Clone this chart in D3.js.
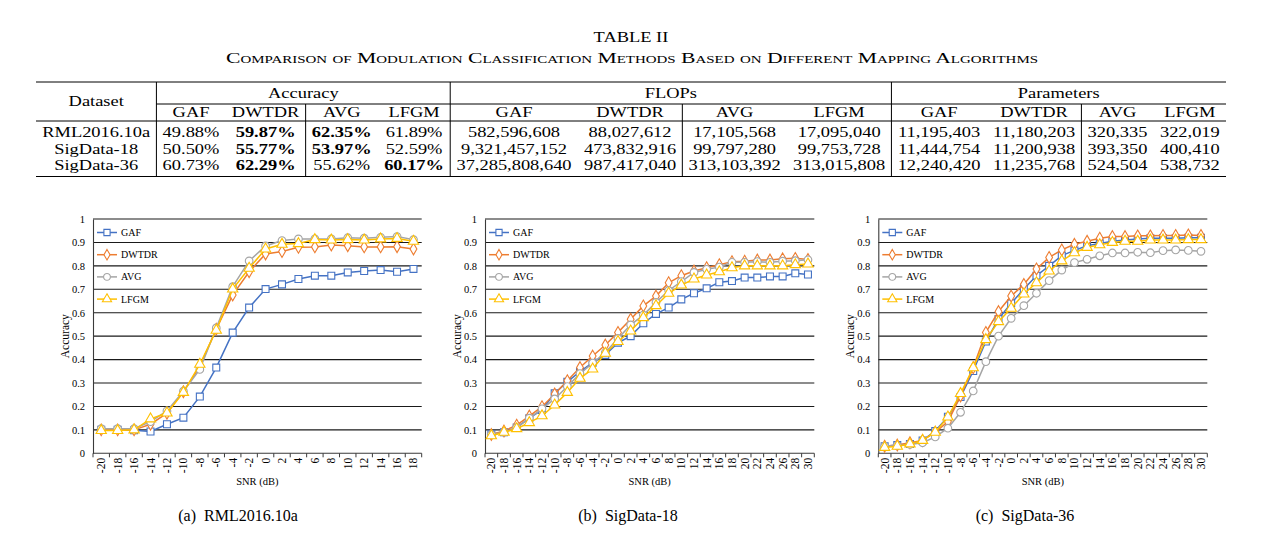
<!DOCTYPE html>
<html><head><meta charset="utf-8">
<script src="https://cdn.jsdelivr.net/npm/d3@7/dist/d3.min.js"></script>
<style>
body{margin:0;background:#fff;}
svg{display:block;font-family:"Liberation Serif","Times New Roman",serif;}
</style></head><body>
<svg id="fig" width="1263" height="538"></svg>
<script>
// ---------- table data ----------
const tableTitle = "TABLE II";
const tableCaption = "Comparison of Modulation Classification Methods Based on Different Mapping Algorithms";
const groupNames = ["Accuracy", "FLOPs", "Parameters"];
const methods = ["GAF", "DWTDR", "AVG", "LFGM"];
const datasets = ["RML2016.10a", "SigData-18", "SigData-36"];
const accuracyValues = [
  ["49.88%", "59.87%", "62.35%", "61.89%"],
  ["50.50%", "55.77%", "53.97%", "52.59%"],
  ["60.73%", "62.29%", "55.62%", "60.17%"]];
const accuracyBold = [
  [false, true, true, false],
  [false, true, true, false],
  [false, true, false, true]];
const flopsValues = [
  ["582,596,608", "88,027,612", "17,105,568", "17,095,040"],
  ["9,321,457,152", "473,832,916", "99,797,280", "99,753,728"],
  ["37,285,808,640", "987,417,040", "313,103,392", "313,015,808"]];
const paramValues = [
  ["11,195,403", "11,180,203", "320,335", "322,019"],
  ["11,444,754", "11,200,938", "393,350", "400,410"],
  ["12,240,420", "11,235,768", "524,504", "538,732"]];

// ---------- chart data ----------
const seriesNames = ["GAF", "DWTDR", "AVG", "LFGM"];
const yTicks = [0, 0.1, 0.2, 0.3, 0.4, 0.5, 0.6, 0.7, 0.8, 0.9, 1];
const snrA = [-20, -18, -16, -14, -12, -10, -8, -6, -4, -2, 0, 2, 4, 6, 8, 10, 12, 14, 16, 18];
const snrB = [-20, -18, -16, -14, -12, -10, -8, -6, -4, -2, 0, 2, 4, 6, 8, 10, 12, 14, 16, 18, 20, 22, 24, 26, 28, 30];
const snrC = [-20, -18, -16, -14, -12, -10, -8, -6, -4, -2, 0, 2, 4, 6, 8, 10, 12, 14, 16, 18, 20, 22, 24, 26, 28, 30];

const gafA   = [0.100, 0.100, 0.098, 0.093, 0.124, 0.152, 0.242, 0.366, 0.515, 0.622, 0.701, 0.721, 0.744, 0.758, 0.758, 0.772, 0.778, 0.782, 0.775, 0.787];
const dwtdrA = [0.100, 0.100, 0.100, 0.124, 0.171, 0.263, 0.370, 0.530, 0.676, 0.775, 0.851, 0.861, 0.879, 0.881, 0.889, 0.886, 0.881, 0.881, 0.882, 0.872];
const avgA   = [0.105, 0.105, 0.105, 0.135, 0.181, 0.265, 0.358, 0.535, 0.711, 0.821, 0.885, 0.908, 0.915, 0.915, 0.915, 0.920, 0.918, 0.922, 0.925, 0.912];
const lfgmA  = [0.097, 0.097, 0.100, 0.147, 0.172, 0.260, 0.380, 0.525, 0.701, 0.790, 0.872, 0.892, 0.895, 0.912, 0.910, 0.912, 0.910, 0.915, 0.917, 0.905];

const gafB   = [0.081, 0.090, 0.110, 0.150, 0.185, 0.256, 0.305, 0.349, 0.387, 0.420, 0.472, 0.500, 0.555, 0.595, 0.622, 0.657, 0.683, 0.704, 0.730, 0.735, 0.750, 0.750, 0.755, 0.755, 0.768, 0.763];
const dwtdrB = [0.080, 0.095, 0.120, 0.159, 0.199, 0.253, 0.310, 0.366, 0.415, 0.462, 0.516, 0.572, 0.629, 0.671, 0.728, 0.758, 0.778, 0.792, 0.805, 0.818, 0.820, 0.825, 0.825, 0.830, 0.832, 0.827];
const avgB   = [0.080, 0.090, 0.110, 0.150, 0.190, 0.232, 0.285, 0.340, 0.385, 0.430, 0.490, 0.548, 0.590, 0.644, 0.695, 0.733, 0.772, 0.785, 0.795, 0.815, 0.815, 0.818, 0.815, 0.820, 0.822, 0.826];
const lfgmB  = [0.075, 0.090, 0.105, 0.131, 0.160, 0.206, 0.260, 0.320, 0.360, 0.427, 0.477, 0.522, 0.579, 0.630, 0.683, 0.718, 0.744, 0.761, 0.775, 0.792, 0.800, 0.800, 0.800, 0.800, 0.805, 0.808];

const gafC   = [0.030, 0.035, 0.040, 0.055, 0.095, 0.156, 0.240, 0.351, 0.477, 0.573, 0.640, 0.701, 0.758, 0.800, 0.844, 0.866, 0.886, 0.896, 0.905, 0.910, 0.915, 0.918, 0.918, 0.918, 0.920, 0.920];
const dwtdrC = [0.030, 0.035, 0.045, 0.055, 0.090, 0.135, 0.245, 0.365, 0.516, 0.605, 0.671, 0.721, 0.787, 0.836, 0.868, 0.892, 0.905, 0.918, 0.925, 0.925, 0.928, 0.928, 0.930, 0.930, 0.932, 0.930];
const avgC   = [0.030, 0.033, 0.038, 0.045, 0.070, 0.107, 0.175, 0.266, 0.391, 0.500, 0.576, 0.630, 0.683, 0.737, 0.782, 0.814, 0.828, 0.843, 0.855, 0.855, 0.858, 0.856, 0.865, 0.868, 0.866, 0.862];
const lfgmC  = [0.025, 0.030, 0.040, 0.055, 0.090, 0.155, 0.255, 0.365, 0.485, 0.562, 0.619, 0.680, 0.728, 0.778, 0.821, 0.856, 0.879, 0.890, 0.900, 0.905, 0.905, 0.910, 0.910, 0.910, 0.912, 0.912];

const captions = ["(a)\u00A0\u00A0RML2016.10a", "(b)\u00A0\u00A0SigData-18", "(c)\u00A0\u00A0SigData-36"];

// ---------- styles ----------
const colors = ["#4472C4", "#ED7D31", "#A5A5A5", "#FFC000"];
const symbols = [d3.symbolSquare, d3.symbolDiamond, d3.symbolCircle, d3.symbolTriangle];
const symbolSizes = [48, 40, 46, 46];

const svg = d3.select("#fig");

function txt(sel, x, y, s, o) {
  o = o || {};
  let tr = `translate(${x},${y})`;
  if (o.sx && o.sx !== 1) tr += ` scale(${o.sx},1)`;
  if (o.rotate) tr += ` rotate(${o.rotate})`;
  const t = sel.append("text").attr("transform", tr)
    .attr("font-size", o.size || 12)
    .attr("text-anchor", o.anchor || "middle")
    .attr("dominant-baseline", "central")
    .attr("fill", "#000")
    .style("white-space", "pre")
    .text(s);
  if (o.weight) t.attr("font-weight", o.weight);
  if (o.variant) t.style("font-variant", o.variant);
  if (o.textLength) t.attr("textLength", o.textLength).attr("lengthAdjust", "spacingAndGlyphs");
  return t;
}

// ---------- table ----------
(function drawTable() {
  const g = svg.append("g");
  const F = 14.5, pad = 6.2, x0 = 36, x1 = 1226;
  const yTop = 82, yH1 = 93.5, yCl = 104, yH2 = 112.5, yRule = 121, yRows = [132, 148.8, 165.3], yBot = 176.5;
  const meas = g.append("text").attr("font-size", F).attr("visibility", "hidden");
  function w(s, bold) { meas.attr("font-weight", bold ? "bold" : "normal").text(s); return meas.node().getComputedTextLength(); }
  const cols = [];
  cols.push({ cells: ["Dataset", ...datasets].map(s => [s, false]) });
  const groups = [accuracyValues, flopsValues, paramValues];
  groups.forEach((vals, gi) => {
    methods.forEach((m, mi) => {
      const cells = [[m, false]];
      vals.forEach((row, ri) => cells.push([row[mi], gi === 0 ? accuracyBold[ri][mi] : false]));
      cols.push({ cells, gi, mi });
    });
  });
  cols.forEach(c => c.nat = d3.max(c.cells, d => w(d[0], d[1])));
  const natSum = d3.sum(cols, c => c.nat);
  const sx = (x1 - x0 - 2 * pad * cols.length) / natSum;
  let cx = x0;
  cols.forEach(c => { c.x0 = cx; c.w = c.nat * sx + 2 * pad; c.x1 = cx + c.w; c.cx = cx + c.w / 2; cx = c.x1; });
  meas.remove();

  txt(g, 631, 37, tableTitle, { size: 14.5, sx: sx });
  txt(g, 632, 58, tableCaption, { size: 14.5, variant: "small-caps", textLength: 812 });

  const line = (xa, ya, xb, yb) => g.append("line").attr("x1", xa).attr("y1", ya).attr("x2", xb).attr("y2", yb)
    .attr("stroke", "#000").attr("stroke-width", 1);
  line(x0, yTop, x1, yTop);
  line(cols[1].x0, yCl, x1, yCl);
  line(x0, yRule, x1, yRule);
  line(x0, yBot, x1, yBot);
  [cols[0].x1, cols[4].x1, cols[8].x1].forEach(x => line(x, yTop, x, yBot));
  [cols[2].x1, cols[6].x1, cols[10].x1].forEach(x => line(x, yCl, x, yBot));

  txt(g, cols[0].cx, (yTop + yRule) / 2, "Dataset", { size: F, sx });
  datasets.forEach((d, i) => txt(g, cols[0].cx, yRows[i], d, { size: F, sx }));
  groupNames.forEach((n, gi) => {
    const a = cols[1 + gi * 4].x0, b = cols[4 + gi * 4].x1;
    txt(g, (a + b) / 2, yH1, n, { size: F, sx });
  });
  cols.slice(1).forEach(c => {
    txt(g, c.cx, yH2, c.cells[0][0], { size: F, sx });
    c.cells.slice(1).forEach((d, ri) => txt(g, c.cx, yRows[ri], d[0], { size: F, sx, weight: d[1] ? "bold" : null }));
  });
})();

// ---------- charts ----------
function drawChart(cfg) {
  const g = svg.append("g");
  const x = d3.scaleBand().domain(cfg.cats).range([cfg.left, cfg.right]);
  const y = d3.scaleLinear().domain([0, 1]).range([cfg.bottom, cfg.top]);
  const bw = x.bandwidth();
  const cxp = c => x(c) + bw / 2;

  g.selectAll("line.grid").data(yTicks.filter(d => d > 0)).join("line")
    .attr("x1", cfg.left).attr("x2", cfg.right)
    .attr("y1", d => y(d)).attr("y2", d => y(d))
    .attr("stroke", "#1a1a1a").attr("stroke-width", 1.1);

  const ya = g.append("g").attr("transform", `translate(${cfg.left},0)`)
    .call(d3.axisLeft(y).tickValues(yTicks).tickFormat(d3.format("~g")).tickSize(0).tickPadding(8));
  ya.select(".domain").attr("stroke", "#3a3a3a").attr("stroke-width", 1.1);
  ya.selectAll("text").attr("font-family", "Liberation Serif, Times New Roman, serif").attr("font-size", 10.5).attr("fill", "#000");

  g.append("line").attr("x1", cfg.left).attr("x2", cfg.right).attr("y1", cfg.bottom).attr("y2", cfg.bottom)
    .attr("stroke", "#3a3a3a").attr("stroke-width", 1.1);
  const bounds = cfg.cats.map(c => x(c)).concat([cfg.right]);
  g.selectAll("line.xt").data(bounds).join("line")
    .attr("x1", d => d).attr("x2", d => d).attr("y1", cfg.bottom).attr("y2", cfg.bottom + 4)
    .attr("stroke", "#3a3a3a").attr("stroke-width", 1);
  cfg.cats.forEach(c => txt(g, cxp(c), cfg.bottom + 4.5, String(c), { size: 11.5, anchor: "end", rotate: -90 }));

  txt(g, cfg.left - 28, (cfg.top + cfg.bottom) / 2, "Accuracy", { size: 11.5, rotate: -90 });
  txt(g, (cfg.left + cfg.right) / 2, 481.5, "SNR (dB)", { size: 10.5 });
  txt(g, cfg.capX, 515, cfg.caption, { size: 16 });

  seriesNames.forEach((n, i) => {
    const ly = cfg.top + 13.5 + i * 22.2;
    g.append("line").attr("x1", cfg.left + 4).attr("x2", cfg.left + 24).attr("y1", ly).attr("y2", ly)
      .attr("stroke", colors[i]).attr("stroke-width", 1.5);
    g.append("path").attr("d", d3.symbol(symbols[i], symbolSizes[i] * 0.8)())
      .attr("transform", `translate(${cfg.left + 14},${ly})`)
      .attr("fill", "#fff").attr("stroke", colors[i]).attr("stroke-width", 1.1);
    txt(g, cfg.left + 28, ly, n, { size: 10, anchor: "start" });
  });

  cfg.series.forEach((vals, i) => {
    const pts = cfg.cats.map((c, k) => [cxp(c), y(vals[k])]);
    g.append("path").attr("d", d3.line()(pts)).attr("fill", "none")
      .attr("stroke", colors[i]).attr("stroke-width", 1.5);
    g.selectAll(null).data(pts).join("path")
      .attr("d", d3.symbol(symbols[i], symbolSizes[i])())
      .attr("transform", d => `translate(${d[0]},${d[1]})`)
      .attr("fill", "#fff").attr("stroke", colors[i]).attr("stroke-width", 1.1);
  });
}

drawChart({ cats: snrA, series: [gafA, dwtdrA, avgA, lfgmA], left: 93, right: 421.7, top: 219, bottom: 453.3, caption: captions[0], capX: 238 });
drawChart({ cats: snrB, series: [gafB, dwtdrB, avgB, lfgmB], left: 485, right: 814.3, top: 219, bottom: 453.3, caption: captions[1], capX: 628 });
drawChart({ cats: snrC, series: [gafC, dwtdrC, avgC, lfgmC], left: 878.3, right: 1207.3, top: 219, bottom: 453.3, caption: captions[2], capX: 1025 });
</script>
</body></html>
